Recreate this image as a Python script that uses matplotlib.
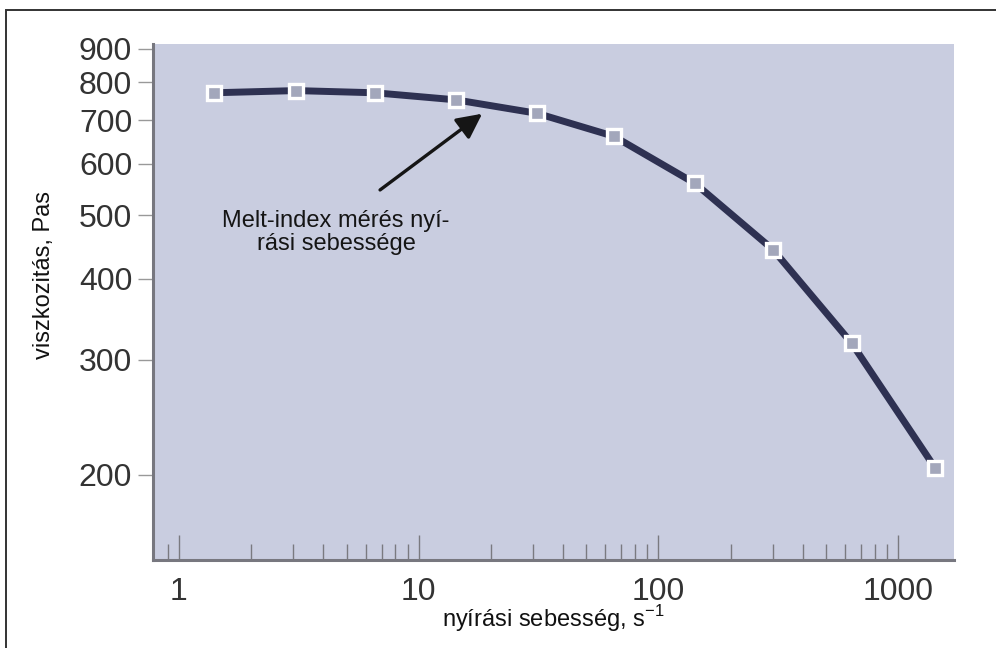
import matplotlib.pyplot as plt
from matplotlib.patches import Rectangle
from matplotlib.ticker import FixedLocator, NullFormatter

# shear rate (1/s) and viscosity (Pa s)
shear_rate = [1.40, 3.08, 6.57, 14.3, 31.2, 65.3, 142, 301, 642, 1426]
viscosity = [771, 777, 771, 752, 717, 661, 560, 443, 318, 205]

y_ticks = [200, 300, 400, 500, 600, 700, 800, 900]
x_ticks = [1, 10, 100, 1000]
x_minor = [0.9] + [m * d for d in (1, 10, 100) for m in range(2, 10)]

note = "Melt-index mérés nyí-\nrási sebessége"

plt.rcParams['font.family'] = ['Liberation Sans', 'DejaVu Sans']

fig = plt.figure(figsize=(9.96, 6.48), dpi=100)
ax = fig.add_axes([0.1536, 0.1358, 0.8042, 0.7963])
ax.set_facecolor('#c9cde0')

ax.plot(shear_rate, viscosity, color='#2e3152', lw=5, marker='s', ms=9.5,
        mfc='#a3a7bb', mec='white', mew=2.4, solid_capstyle='butt')

ax.set_xscale('log')
ax.set_yscale('log')
ax.set_xlim(0.779, 1711)
ax.set_ylim(148, 916)

ax.yaxis.set_major_locator(FixedLocator(y_ticks))
ax.yaxis.set_minor_locator(FixedLocator([]))
ax.set_yticklabels([str(v) for v in y_ticks])
ax.xaxis.set_major_locator(FixedLocator(x_ticks))
ax.xaxis.set_minor_locator(FixedLocator(x_minor))
ax.xaxis.set_minor_formatter(NullFormatter())
ax.set_xticklabels([str(v) for v in x_ticks])

ax.tick_params(axis='y', which='major', direction='out', length=11, width=1,
               color='#999999', pad=4, labelsize=23, labelcolor='#333333')
ax.tick_params(axis='x', which='major', direction='in', length=18, width=1,
               color='#7a7a80', pad=12, labelsize=23, labelcolor='#333333')
ax.tick_params(axis='x', which='minor', direction='in', length=11.5, width=1,
               color='#7a7a80')

for s in ('top', 'right'):
    ax.spines[s].set_visible(False)
for s in ('left', 'bottom'):
    ax.spines[s].set_color('#77777f')
    ax.spines[s].set_linewidth(2.2)

ax.set_xlabel(r"nyírási sebesség, s$^{\mathregular{-1}}$", fontsize=17,
              color='#111111')
ax.xaxis.set_label_coords(0.5, -0.083)
ax.set_ylabel("viszkozitás, Pas", fontsize=17, color='#111111')
ax.yaxis.set_label_coords(-0.122, 0.552)

ax.annotate("", xy=(18.4, 716), xytext=(6.90, 547),
            arrowprops=dict(arrowstyle='-|>', mutation_scale=38, lw=2.4,
                            color='#151515', shrinkA=0, shrinkB=0))
ax.text(4.52, 470, note, ha='center', va='center', fontsize=17,
        color='#151515', linespacing=1.05)

# thin frame of the original picture (left and top edges only visible)
fig.add_artist(Rectangle((0.006, -0.1), 1.2, 1.0846, transform=fig.transFigure,
                         fill=False, ec='#333333', lw=1.4))

fig.savefig("out.png", dpi=100)
plt.close(fig)
